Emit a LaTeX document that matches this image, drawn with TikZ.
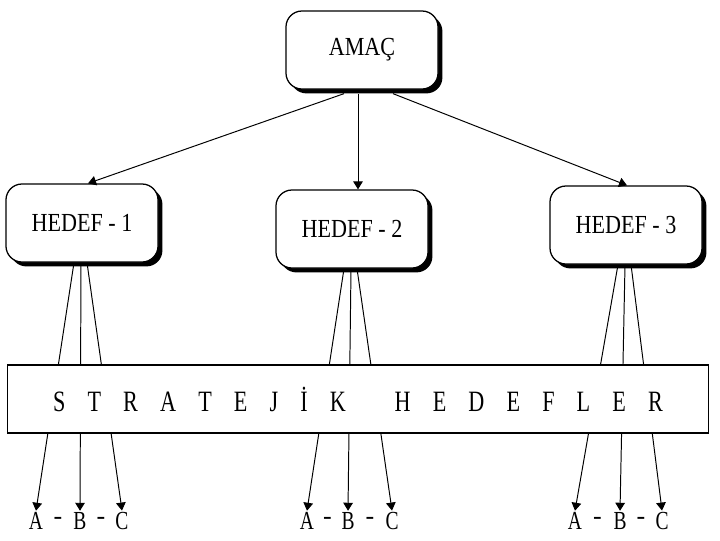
\documentclass[tikz,border=0pt]{standalone}
\usepackage{fontspec}
\setmainfont{Liberation Serif}
\usetikzlibrary{arrows.meta,positioning,calc,shadows,backgrounds}
\newcommand{\narrow}[1]{\scalebox{0.85}[1]{#1}}
\newcommand{\slim}[1]{\scalebox{0.75}[1]{#1}}

\begin{document}
\begin{tikzpicture}[
  x=0.025cm, y=-0.025cm,
  goal/.style={draw, line width=0.9pt, rounded corners=4mm, fill=white,
    minimum width=3.8cm, minimum height=1.95cm, font=\fontsize{18.5}{20}\selectfont,
    drop shadow={shadow xshift=1.1mm, shadow yshift=-1.1mm, opacity=1, fill=black}},
  band/.style={draw, line width=0.8pt, fill=white, minimum width=17.5cm,
    minimum height=1.7cm, font=\fontsize{21}{24}\selectfont},
  lbl/.style={font=\fontsize{18.5}{20}\selectfont, inner sep=1pt},
  arrow/.style={-{Triangle[length=2mm, width=2.4mm]}, line width=0.7pt},
]
  \useasboundingbox (0,0) rectangle (720,540);
  \node[goal] (amac) at (362,50) {\narrow{AMAÇ}};
  \node[goal] (h1) at (82,223) {\narrow{HEDEF - 1}};
  \node[goal] (h2) at (352,229) {\narrow{HEDEF - 2}};
  \node[goal] (h3) at (626,225) {\narrow{HEDEF - 3}};
  \node[band] (strat) at (358,399) {\slim{\spaceskip=1em S T R A T E J İ K\hspace{1.2em} H E D E F L E R}};
  \draw[arrow] ($(amac.south)+(-18,4)$) -- ($(h1.north)+(6,0)$);
  \draw[arrow] ($(amac.south)+(-4,4)$) -- ($(h2.north)+(6,0)$);
  \draw[arrow] ($(amac.south)+(31,4)$) -- ($(h3.north)+(1,0)$);
  % three targets under each goal
  \foreach \g/\xa/\xb/\xc in {1/36/80/122, 2/307/348/392, 3/575/620/662} {
    \node[lbl] (a\g) at (\xa,521) {\slim{A}};
    \node[lbl] (b\g) at (\xb,521) {\slim{B}};
    \node[lbl] (c\g) at (\xc,521) {\slim{C}};
    \node[lbl] at ($(a\g)!0.5!(b\g)$) {-};
    \node[lbl] at ($(b\g)!0.5!(c\g)$) {-};
    \begin{scope}[on background layer]
      \draw[arrow] ($(h\g.south)+(-8,0)$) -- (a\g.north);
      \draw[arrow] ($(h\g.south)+(-1,0)$) -- (b\g.north);
      \draw[arrow] ($(h\g.south)+(5,0)$) -- (c\g.north);
    \end{scope}
  }
\end{tikzpicture}
\end{document}
